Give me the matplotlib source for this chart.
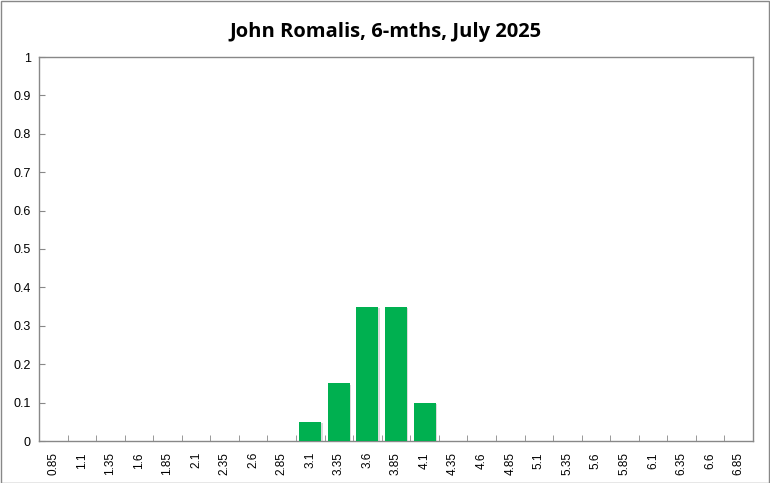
import matplotlib.pyplot as plt
from matplotlib.patches import Rectangle
import matplotlib.patheffects as pe

categories = ['0.85', '1.1', '1.35', '1.6', '1.85', '2.1', '2.35', '2.6', '2.85',
              '3.1', '3.35', '3.6', '3.85', '4.1', '4.35', '4.6', '4.85', '5.1',
              '5.35', '5.6', '5.85', '6.1', '6.35', '6.6', '6.85']
probs = [0, 0, 0, 0, 0, 0, 0, 0, 0,
         0.05, 0.15, 0.35, 0.35, 0.10, 0, 0, 0, 0,
         0, 0, 0, 0, 0, 0, 0]
yticks = [0, 0.1, 0.2, 0.3, 0.4, 0.5, 0.6, 0.7, 0.8, 0.9, 1]
ytick_labels = ['0', '0.1', '0.2', '0.3', '0.4', '0.5', '0.6', '0.7', '0.8', '0.9', '1']

plt.rcParams['font.family'] = ['Liberation Sans', 'DejaVu Sans']

fig = plt.figure(figsize=(7.7, 4.83), dpi=100)
ax = fig.add_axes([39 / 770, 1 - 441 / 483, 714 / 770, 384 / 483])

x = list(range(len(categories)))
ax.bar(x, probs, width=0.77, color='#00b050', zorder=3,
       path_effects=[pe.SimplePatchShadow(offset=(1, -1), shadow_rgbFace='#999999', alpha=0.35),
                     pe.Normal()])

ax.set_xlim(-0.5, len(categories) - 0.5)
ax.set_ylim(0, 1)
ax.set_yticks(yticks)
ax.set_yticklabels(ytick_labels, fontsize=9)
ax.set_xticks(x)
ax.set_xticklabels(categories, rotation=90, fontsize=8.5)
ax.tick_params(axis='x', length=0, pad=8)
ax.set_xticks([i - 0.5 for i in range(len(categories) + 1)], minor=True)
ax.tick_params(axis='x', which='minor', direction='in', length=4, color='#888888')
ax.tick_params(axis='y', direction='in', length=4, color='#888888', pad=6)

for s in ax.spines.values():
    s.set_color('#888888')
    s.set_linewidth(1)

fig.text(0.5, 1 - 32 / 483, 'John Romalis, 6-mths, July 2025', ha='center', va='center',
         fontsize=14.5, fontweight='bold', family=['Open Sans', 'DejaVu Sans'])

fig.patches.append(Rectangle((0.001, 0.001), 0.998, 0.997, transform=fig.transFigure,
                             fill=False, edgecolor='#888888', linewidth=1))

fig.savefig('out.png', dpi=100)
